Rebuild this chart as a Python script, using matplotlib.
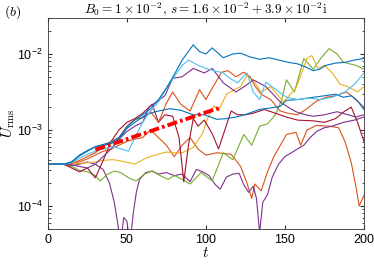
import matplotlib
matplotlib.use('Agg')
import matplotlib.pyplot as plt
import numpy as np

plt.rcParams['font.family'] = 'Liberation Sans'
plt.rcParams['mathtext.fontset'] = 'custom'
plt.rcParams['mathtext.rm'] = 'Liberation Sans'
plt.rcParams['mathtext.it'] = 'Liberation Sans:italic'

# values, given as log10(U_rms)
t_blue_a = [0, 10, 15, 20, 25, 30, 35, 40, 45, 50, 55, 60, 65, 70, 75, 80, 85, 92, 96, 100, 104, 111, 117, 122, 128, 134, 140, 146, 152, 158, 163, 168, 172, 176, 182, 188, 194, 200]
u_blue_a = [-3.45, -3.45, -3.42, -3.34, -3.28, -3.22, -3.19, -3.16, -3.1, -2.96, -2.87, -2.8, -2.72, -2.6, -2.45, -2.27, -2.08, -1.88, -1.97, -2.0, -1.92, -2.05, -2.0, -1.99, -2.04, -2.07, -2.05, -2.08, -2.11, -2.13, -2.17, -2.22, -2.2, -2.15, -2.12, -2.11, -2.08, -2.06]

t_blue_b = [0, 10, 15, 20, 25, 30, 35, 40, 45, 50, 55, 62, 68, 77, 84, 92, 99, 107, 113, 119, 126, 134, 141, 147, 151, 158, 168, 175, 182, 187, 192, 196, 200]
u_blue_b = [-3.45, -3.45, -3.42, -3.33, -3.27, -3.22, -3.2, -3.18, -3.12, -2.98, -2.9, -2.8, -2.76, -2.72, -2.74, -2.8, -2.8, -2.86, -2.85, -2.83, -2.79, -2.73, -2.71, -2.69, -2.61, -2.6, -2.57, -2.55, -2.53, -2.57, -2.55, -2.62, -2.73]

t_lblue = [0, 10, 15, 20, 25, 30, 35, 40, 45, 51, 55, 60, 65, 70, 75, 80, 85, 89, 95, 100, 105, 111, 116, 120, 126, 130, 134, 138, 145, 151, 158, 165, 172, 180, 188, 194, 200]
u_lblue = [-3.45, -3.45, -3.43, -3.37, -3.32, -3.28, -3.25, -3.22, -3.24, -3.28, -3.1, -2.9, -2.75, -2.63, -2.45, -2.3, -2.15, -2.08, -2.15, -2.19, -2.22, -2.25, -2.33, -2.38, -2.25, -2.5, -2.6, -2.37, -2.48, -2.57, -2.6, -2.58, -2.6, -2.57, -2.5, -2.4, -2.25]

t_purple_a = [0, 10, 15, 20, 25, 30, 35, 40, 45, 50, 55, 60, 64, 68, 74, 79, 85, 92, 99, 104, 111, 119, 125, 130, 138, 147, 152, 157, 163, 168, 175, 183, 190, 195, 200]
u_purple_a = [-3.45, -3.45, -3.46, -3.48, -3.5, -3.45, -3.35, -3.25, -3.12, -3.02, -2.95, -2.9, -2.7, -2.64, -2.55, -2.32, -2.3, -2.19, -2.25, -2.19, -2.38, -2.5, -2.42, -2.34, -2.43, -2.63, -2.7, -2.76, -2.8, -2.82, -2.8, -2.76, -2.8, -2.83, -2.8]

t_purple_b = [0, 10, 15, 20, 25, 30, 35, 39, 42, 44, 46, 48, 50, 52, 54, 56, 58, 62, 66, 70, 75, 80, 85, 90, 94, 98, 102, 106, 109, 113, 117, 121, 124, 127, 130, 132, 134, 136, 139, 142, 146, 150, 154, 158, 162, 166, 170, 175, 180, 187, 194, 200]
u_purple_b = [-3.45, -3.45, -3.47, -3.45, -3.42, -3.45, -3.52, -3.7, -3.95, -4.2, -4.5, -4.15, -4.2, -4.5, -4.1, -3.82, -3.65, -3.56, -3.54, -3.58, -3.56, -3.6, -3.58, -3.68, -3.52, -3.55, -3.6, -3.72, -3.78, -3.62, -3.58, -3.57, -3.72, -3.82, -3.74, -3.9, -4.35, -3.95, -3.85, -3.62, -3.45, -3.35, -3.3, -3.25, -3.2, -3.1, -3.02, -2.97, -2.95, -2.9, -2.87, -2.83]

t_orange_a = [0, 10, 15, 20, 25, 30, 35, 40, 45, 50, 55, 60, 65, 70, 75, 79, 84, 90, 96, 100, 104, 110, 114, 119, 124, 128, 131, 135, 141, 147, 152, 158, 164, 170, 176, 182, 189, 194, 200]
u_orange_a = [-3.45, -3.45, -3.44, -3.4, -3.35, -3.3, -3.22, -3.15, -3.1, -2.95, -2.86, -2.84, -2.76, -2.9, -2.65, -2.5, -2.66, -2.75, -2.47, -2.6, -2.45, -2.24, -2.22, -2.3, -2.24, -2.3, -2.42, -2.53, -2.6, -2.75, -2.78, -2.8, -2.72, -2.62, -2.57, -2.55, -2.5, -2.58, -2.7]

t_orange_b = [0, 10, 15, 20, 25, 30, 35, 40, 45, 50, 55, 60, 65, 70, 75, 80, 85, 90, 95, 100, 107, 116, 122, 126, 129, 131, 135, 139, 143, 151, 157, 160, 164, 170, 178, 184, 188, 192, 195, 197, 200]
u_orange_b = [-3.45, -3.45, -3.45, -3.42, -3.38, -3.33, -3.28, -3.25, -3.2, -3.15, -3.12, -3.1, -3.0, -3.1, -3.2, -3.35, -3.2, -3.1, -3.25, -3.33, -3.3, -3.32, -3.48, -3.7, -3.9, -3.71, -3.8, -3.55, -3.35, -3.06, -3.03, -3.2, -3.0, -2.94, -2.95, -2.97, -3.15, -3.43, -3.75, -4.0, -3.86]

t_yellow = [0, 10, 20, 25, 30, 35, 41, 47, 55, 62, 68, 75, 80, 85, 92, 98, 101, 105, 108, 113, 118, 122, 126, 130, 135, 141, 149, 157, 164, 167, 171, 175, 180, 185, 190, 196, 200]
u_yellow = [-3.45, -3.45, -3.44, -3.43, -3.42, -3.4, -3.39, -3.41, -3.45, -3.37, -3.33, -3.29, -3.3, -3.3, -3.23, -3.04, -2.85, -2.68, -2.75, -2.53, -2.47, -2.43, -2.28, -2.35, -2.5, -2.43, -2.63, -2.45, -2.06, -2.02, -2.19, -2.15, -2.25, -2.4, -2.43, -2.5, -2.43]

t_green = [0, 10, 15, 20, 25, 30, 33, 38, 42, 46, 52, 56, 61, 66, 71, 76, 80, 85, 90, 97, 104, 111, 117, 124, 129, 134, 139, 144, 148, 151, 156, 162, 168, 173, 178, 183, 187, 195, 200]
u_green = [-3.45, -3.45, -3.48, -3.53, -3.55, -3.6, -3.67, -3.58, -3.54, -3.56, -3.64, -3.67, -3.58, -3.54, -3.6, -3.65, -3.6, -3.65, -3.71, -3.56, -3.67, -3.3, -3.39, -3.06, -3.2, -2.95, -2.92, -2.8, -2.6, -2.34, -2.5, -2.06, -2.2, -2.05, -1.93, -2.0, -2.11, -2.15, -2.2]

t_dred = [0, 10, 15, 20, 25, 30, 35, 40, 45, 50, 55, 60, 66, 70, 74, 79, 83, 86, 89, 92, 95, 99, 104, 108, 112, 116, 120, 125, 130, 137, 144, 151, 158, 168, 175, 182, 188, 192, 196, 200]
u_dred = [-3.45, -3.45, -3.5, -3.55, -3.5, -3.63, -3.4, -3.15, -3.0, -2.9, -2.85, -2.78, -2.66, -2.9, -2.8, -2.82, -3.1, -3.68, -3.2, -2.85, -2.95, -2.87, -3.05, -3.25, -3.0, -2.75, -2.8, -2.8, -2.78, -2.73, -2.78, -2.83, -2.87, -2.88, -2.9, -2.85, -2.75, -2.7, -2.9, -3.15]

t_fit = [30, 110]
u_fit = [5.5e-4, 2.0e-3]

series = [
    (t_orange_b, u_orange_b, '#D95319'),
    (t_purple_b, u_purple_b, '#7E2F8E'),
    (t_green, u_green, '#77AC30'),
    (t_yellow, u_yellow, '#EDB120'),
    (t_dred, u_dred, '#A2142F'),
    (t_orange_a, u_orange_a, '#D95319'),
    (t_purple_a, u_purple_a, '#7E2F8E'),
    (t_blue_b, u_blue_b, '#0072BD'),
    (t_lblue, u_lblue, '#4DBEEE'),
    (t_blue_a, u_blue_a, '#0072BD'),
]

fig = plt.figure(figsize=(3.74, 2.64), dpi=100)
ax = fig.add_axes([0.128, 0.133, 0.845, 0.8])

for t, u, c in series:
    ax.plot(t, 10 ** np.array(u), color=c, lw=0.8)
ax.plot(t_fit, u_fit, color='#FF0000', lw=2.8, dashes=(2.6, 0.8, 0.7, 0.8))

ax.set_yscale('log')
ax.set_xlim(0, 200)
ax.set_ylim(5e-5, 3e-2)
ax.set_xticks([0, 50, 100, 150, 200])
ax.tick_params(which='both', direction='in', top=True, right=True, labelsize=9, color='#333333')
ax.tick_params(which='major', length=3)
ax.tick_params(which='minor', length=1.8)
for s in ax.spines.values():
    s.set_linewidth(0.6)
    s.set_color('#333333')

ax.set_title(r'$B_0 = 1\times10^{-2},\, s = 1.6\times10^{-2} + 3.9\times10^{-2}\mathrm{i}$',
             fontsize=9.5, math_fontfamily='cm', pad=2)
ax.set_xlabel(r'$t$', fontsize=11, math_fontfamily='cm', labelpad=0)
ax.set_ylabel(r'$U_{\mathrm{rms}}$', fontsize=11, math_fontfamily='cm', labelpad=0)
fig.text(0.012, 0.94, r'$(b)$', fontsize=10, math_fontfamily='cm')

fig.savefig('out.png', dpi=100)
